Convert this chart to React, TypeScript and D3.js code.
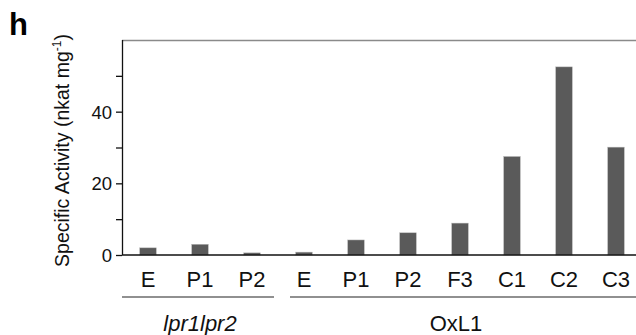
import React, { useEffect, useRef } from 'react';
import * as d3 from 'd3';

const width = 636;
const height = 335;
const margin = { top: 40, right: -6, bottom: 80, left: 122 };
const barColor = '#5a5a5a';
const font = '"Liberation Sans", Arial, sans-serif';

// data
const groups = ['lpr1lpr2', 'OxL1'];
const groupCategories = [
  ['E', 'P1', 'P2'],
  ['E', 'P1', 'P2', 'F3', 'C1', 'C2', 'C3'],
];
const groupValues = [
  [2.0, 3.0, 0.6],
  [0.8, 4.2, 6.2, 8.9, 27.5, 52.5, 30.1],
];
const yTicks = [0, 10, 20, 30, 40, 50];
const yLabelled = [0, 20, 40];

const bars = groups.flatMap((g, gi) =>
  groupCategories[gi].map((c, ci) => ({ key: `${g}-${c}`, group: g, cat: c, value: groupValues[gi][ci] }))
);

export default function App() {
  const ref = useRef<SVGSVGElement>(null);

  useEffect(() => {
    const svg = d3.select(ref.current);
    svg.selectAll('*').remove();

    const x = d3.scaleBand()
      .domain(bars.map(d => d.key))
      .range([margin.left, width - margin.right])
      .paddingInner(0.68)
      .paddingOuter(0.34);
    const y = d3.scaleLinear().domain([0, 60]).range([height - margin.bottom, margin.top]);
    const y0 = y(0);

    // frame: gray top line, black y axis and baseline
    svg.append('line')
      .attr('x1', margin.left).attr('x2', width)
      .attr('y1', y(60) + 0.5).attr('y2', y(60) + 0.5)
      .attr('stroke', '#8a8a8a').attr('stroke-width', 1.5);

    svg.selectAll('rect.bar')
      .data(bars)
      .join('rect')
      .attr('class', 'bar')
      .attr('x', d => x(d.key)!)
      .attr('width', x.bandwidth())
      .attr('y', d => y(d.value))
      .attr('height', d => y0 - y(d.value))
      .attr('fill', barColor)
      .attr('stroke', '#bdbdbd')
      .attr('stroke-width', 0.5);

    svg.append('line')
      .attr('x1', margin.left).attr('x2', width)
      .attr('y1', y0).attr('y2', y0)
      .attr('stroke', '#111').attr('stroke-width', 1.3);

    const yAxis = d3.axisLeft(y)
      .tickValues(yTicks)
      .tickSize(6)
      .tickSizeOuter(0)
      .tickFormat(d => (yLabelled.includes(+d) ? `${d}` : ''));
    const gy = svg.append('g').attr('transform', `translate(${margin.left},0)`).call(yAxis);
    gy.select('.domain').attr('stroke', '#111').attr('stroke-width', 1.3)
      .attr('d', `M0.5,${y(60)}V${y0}`);
    gy.selectAll('.tick line').attr('stroke', '#111').attr('stroke-width', 1.3);
    gy.selectAll('.tick text')
      .attr('font-family', font).attr('font-size', 18.5).attr('fill', '#111')
      .attr('x', -10).attr('dy', '0.35em');

    // category labels
    svg.selectAll('text.cat')
      .data(bars)
      .join('text')
      .attr('class', 'cat')
      .attr('x', d => x(d.key)! + x.bandwidth() / 2)
      .attr('y', y0 + 32)
      .attr('text-anchor', 'middle')
      .attr('font-family', font)
      .attr('font-size', 22)
      .attr('fill', '#111')
      .text(d => d.cat);

    // group brackets
    const step = x.step();
    groups.forEach((g, gi) => {
      const keys = bars.filter(b => b.group === g).map(b => b.key);
      const start = x(keys[0])! - step * 0.34;
      const end = x(keys[keys.length - 1])! + x.bandwidth() + step * 0.34;
      svg.append('line')
        .attr('x1', gi === 0 ? start : start + 12).attr('x2', end - 4)
        .attr('y1', y0 + 42).attr('y2', y0 + 42)
        .attr('stroke', '#222').attr('stroke-width', 1.2);
      const mid = (x(keys[0])! + x(keys[keys.length - 1])! + x.bandwidth()) / 2;
      svg.append('text')
        .attr('x', gi === 0 ? mid : mid - 4)
        .attr('y', y0 + 76)
        .attr('text-anchor', 'middle')
        .attr('font-family', font)
        .attr('font-size', 22)
        .attr('font-style', gi === 0 ? 'italic' : 'normal')
        .attr('fill', '#111')
        .text(g);
    });

    // y title
    const title = svg.append('text')
      .attr('transform', `translate(69,${(y(60) + y0) / 2 + 3}) rotate(-90)`)
      .attr('text-anchor', 'middle')
      .attr('font-family', font)
      .attr('font-size', 19.5)
      .attr('fill', '#111');
    title.append('tspan').text('Specific Activity (nkat mg');
    title.append('tspan').attr('font-size', 12).attr('dy', -8).text('-1');
    title.append('tspan').attr('dy', 8).text(')');

    // panel letter
    svg.append('text')
      .attr('x', 9).attr('y', 35)
      .attr('font-family', font)
      .attr('font-size', 31)
      .attr('font-weight', 'bold')
      .attr('fill', '#000')
      .text('h');
  }, []);

  return (
    <svg
      ref={ref}
      width={width}
      height={height}
      style={{ position: 'absolute', left: 0, top: 0, background: '#fff' }}
    />
  );
}
